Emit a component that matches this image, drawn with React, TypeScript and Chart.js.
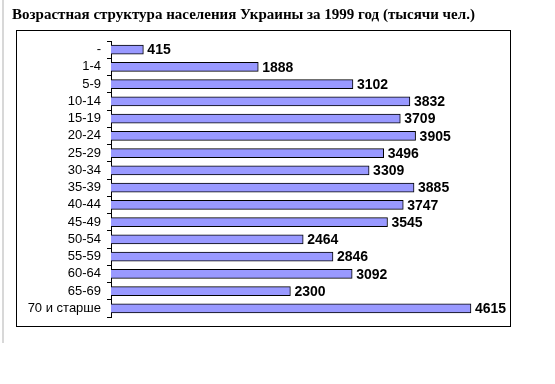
import React, { useEffect, useRef } from "react";
import { Chart, registerables } from "chart.js";

Chart.register(...registerables);

const TITLE = "Возрастная структура населения Украины за 1999 год (тысячи чел.)";
const categories = [
  "-", "1-4", "5-9", "10-14", "15-19", "20-24", "25-29", "30-34",
  "35-39", "40-44", "45-49", "50-54", "55-59", "60-64", "65-69", "70 и старше",
];
const values = [415, 1888, 3102, 3832, 3709, 3905, 3496, 3309, 3885, 3747, 3545, 2464, 2846, 3092, 2300, 4615];
const axisMax = 5000;

const decorPlugin = {
  id: "decor",
  beforeDraw(chart: any) {
    const ctx = chart.ctx;
    ctx.save();
    ctx.fillStyle = "#ffffff";
    ctx.fillRect(0, 0, chart.width, chart.height);
    ctx.strokeStyle = "#d8d8d8";
    ctx.lineWidth = 2;
    ctx.beginPath();
    ctx.moveTo(3, 0);
    ctx.lineTo(3, 343);
    ctx.stroke();
    ctx.strokeStyle = "#000000";
    ctx.lineWidth = 1;
    ctx.strokeRect(16.5, 30.5, 494, 296);
    ctx.fillStyle = "#000000";
    ctx.font = "bold 15px 'Liberation Serif', 'Times New Roman', serif";
    ctx.textAlign = "left";
    ctx.textBaseline = "alphabetic";
    ctx.fillText(TITLE, 12, 19);
    ctx.restore();
  },
  afterDatasetsDraw(chart: any) {
    const ctx = chart.ctx;
    const meta = chart.getDatasetMeta(0);
    ctx.save();
    ctx.fillStyle = "#000000";
    ctx.font = "bold 14px 'Liberation Sans', Arial, sans-serif";
    ctx.textAlign = "left";
    ctx.textBaseline = "middle";
    meta.data.forEach((bar: any, i: number) => {
      ctx.fillText(String(values[i]), bar.x + 4, bar.y + 1);
    });
    ctx.restore();
  },
};

export default function App() {
  const ref = useRef<HTMLCanvasElement>(null);
  useEffect(() => {
    if (!ref.current) return;
    const chart = new Chart(ref.current, {
      type: "bar",
      data: {
        labels: categories,
        datasets: [
          {
            data: values,
            backgroundColor: "#9999FF",
            borderColor: "#000000",
            borderWidth: 1,
            barThickness: 9,
          },
        ],
      },
      options: {
        indexAxis: "y",
        animation: false,
        responsive: false,
        devicePixelRatio: 1,
        layout: { padding: { left: 16, top: 41, right: 54, bottom: 67 } },
        plugins: {
          legend: { display: false },
          tooltip: { enabled: false },
          title: { display: false },
        },
        scales: {
          x: { display: false, min: 0, max: axisMax },
          y: {
            offset: true,
            afterFit: (scale: any) => {
              scale.width = 95;
            },
            grid: {
              display: true,
              drawOnChartArea: false,
              drawTicks: true,
              tickLength: 4,
              color: "#000000",
              offset: true,
            },
            border: { display: true, color: "#000000", width: 1 },
            ticks: {
              color: "#000000",
              padding: 6,
              font: { family: "'Liberation Sans', Arial, sans-serif", size: 13 },
              autoSkip: false,
            },
          },
        },
      },
      plugins: [decorPlugin],
    });
    return () => chart.destroy();
  }, []);
  return (
    <div style={{ position: "absolute", left: 0, top: 0, width: 555, height: 384, background: "#fff" }}>
      <canvas ref={ref} width={555} height={384} style={{ width: 555, height: 384, display: "block" }} />
    </div>
  );
}
